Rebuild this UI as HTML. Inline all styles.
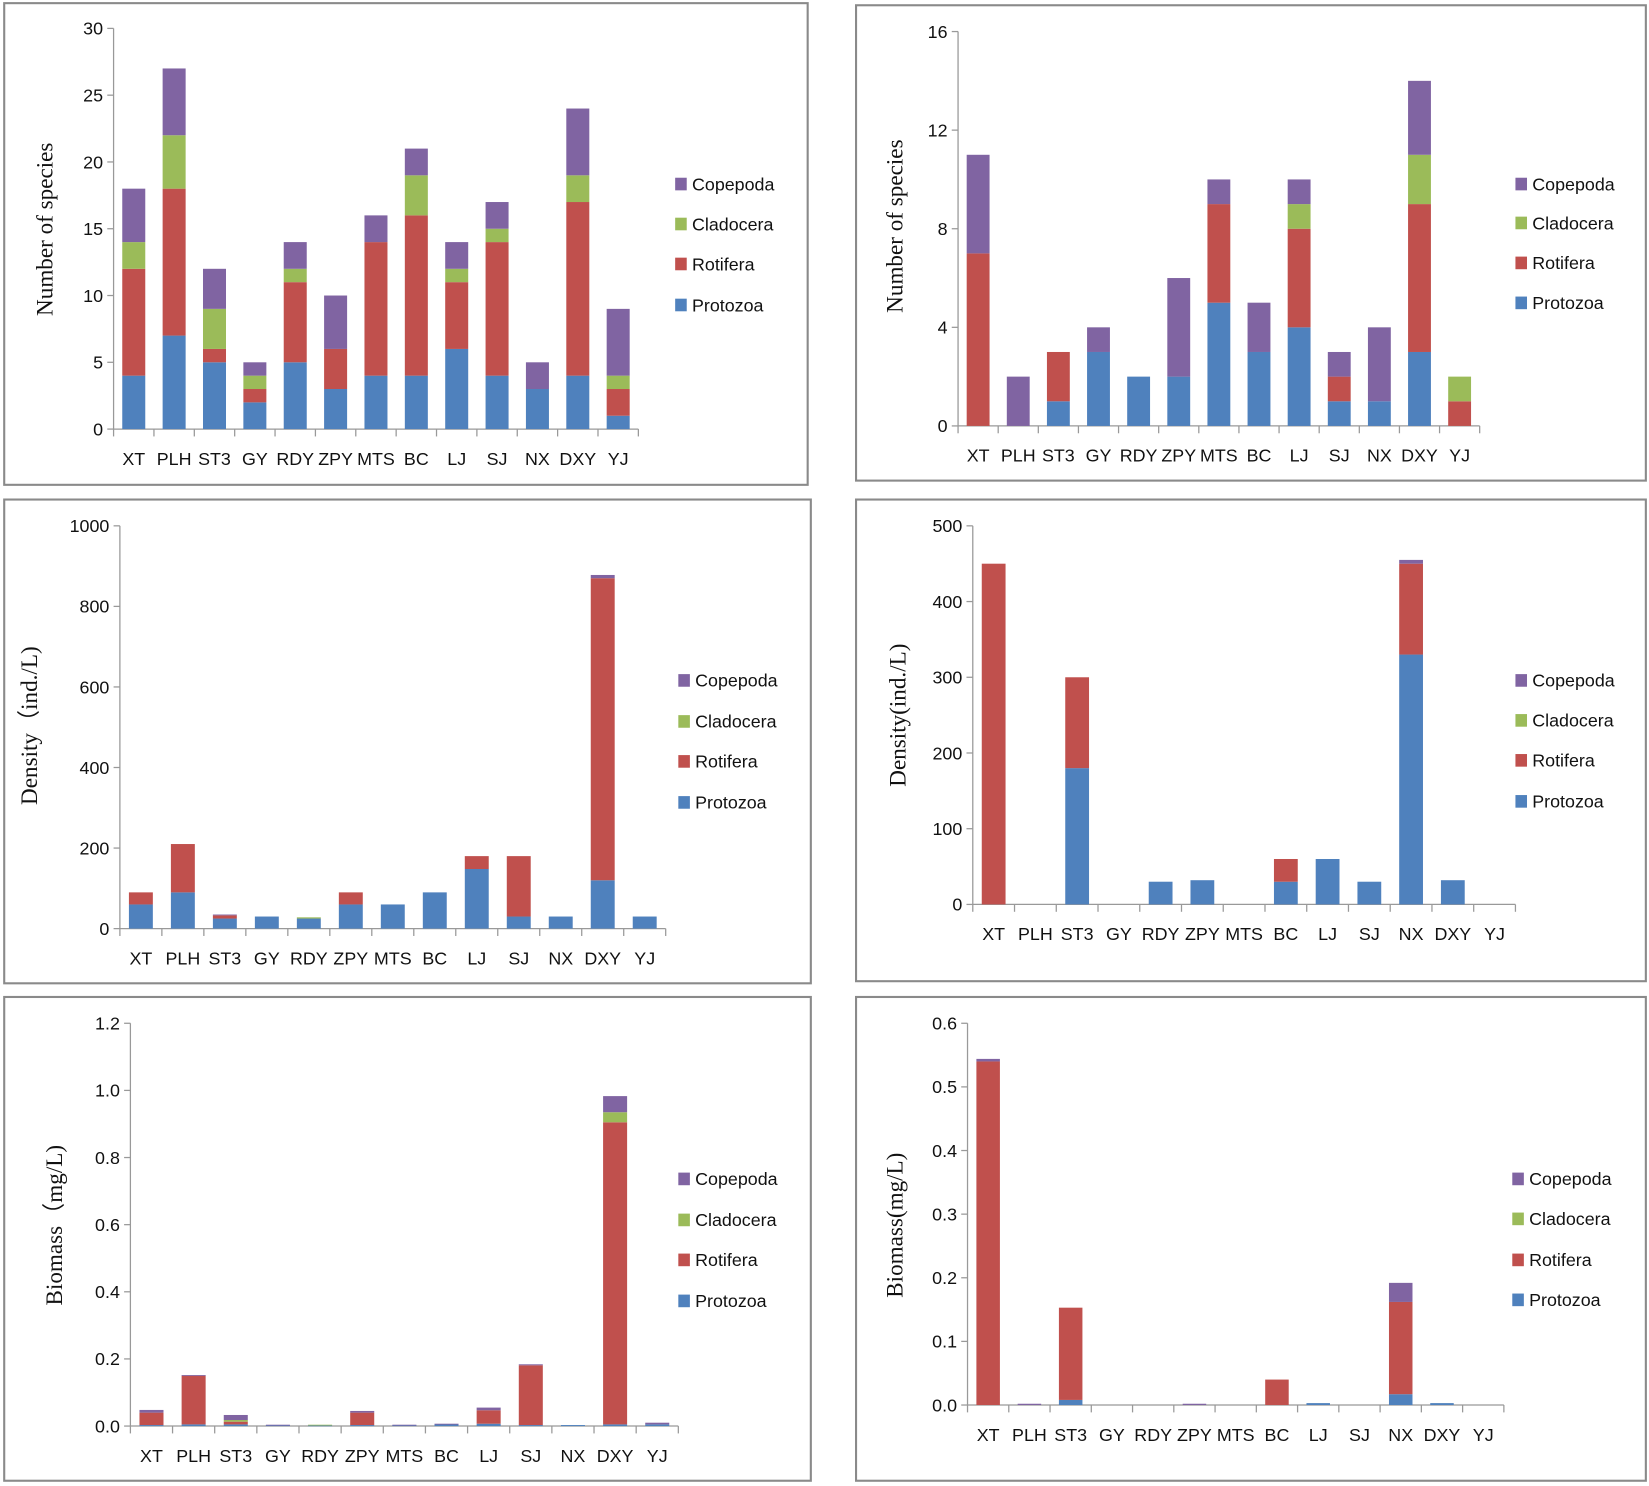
<!DOCTYPE html>
<html><head><meta charset="utf-8">
<style>
html,body{margin:0;padding:0;background:#fff;}
svg{display:block;}
.tk{font-family:"Liberation Sans Narrow","Liberation Sans",sans-serif;font-size:17px;fill:#111;}
.lg{font-family:"Liberation Sans Narrow","Liberation Sans",sans-serif;font-size:17px;fill:#111;}
.tt{font-family:"Liberation Serif",serif;font-size:22px;fill:#111;}
</style></head>
<body>
<svg id="chart" width="1649" height="1486" viewBox="0 0 1568 1413" preserveAspectRatio="none" xmlns="http://www.w3.org/2000/svg"></svg>
<script>
const categories = ["XT","PLH","ST3","GY","RDY","ZPY","MTS","BC","LJ","SJ","NX","DXY","YJ"];
const seriesNames = ["Protozoa","Rotifera","Cladocera","Copepoda"];
const seriesColors = ["#4F81BD","#C0504D","#9BBB59","#8064A2"];

// Panel 1: number of species (season A)
const p1Protozoa  = [4,7,5,2,5,3,4,4,6,4,3,4,1];
const p1Rotifera  = [8,11,1,1,6,3,10,12,5,10,0,13,2];
const p1Cladocera = [2,4,3,1,1,0,0,3,1,1,0,2,1];
const p1Copepoda  = [4,5,3,1,2,4,2,2,2,2,2,5,5];
const p1Ticks = [0,5,10,15,20,25,30];

// Panel 2: number of species (season B)
const p2Protozoa  = [0,0,1,3,2,2,5,3,4,1,1,3,0];
const p2Rotifera  = [7,0,2,0,0,0,4,0,4,1,0,6,1];
const p2Cladocera = [0,0,0,0,0,0,0,0,1,0,0,2,1];
const p2Copepoda  = [4,2,0,1,0,4,1,2,1,1,3,3,0];
const p2Ticks = [0,4,8,12,16];

// Panel 3: density (season A)
const p3Protozoa  = [60,90,25,30,25,60,60,90,148,30,30,120,30];
const p3Rotifera  = [30,120,8,0,0,30,0,0,32,150,0,750,0];
const p3Cladocera = [0,0,0,0,3,0,0,0,0,0,0,0,0];
const p3Copepoda  = [0,0,2,0,0,0,0,0,0,0,0,8,0];
const p3Ticks = [0,200,400,600,800,1000];

// Panel 4: density (season B)
const p4Protozoa  = [0,0,180,0,30,32,0,30,60,30,330,32,0];
const p4Rotifera  = [450,0,120,0,0,0,0,30,0,0,120,0,0];
const p4Cladocera = [0,0,0,0,0,0,0,0,0,0,0,0,0];
const p4Copepoda  = [0,0,0,0,0,0,0,0,0,0,5,0,0];
const p4Ticks = [0,100,200,300,400,500];

// Panel 5: biomass (season A)
const p5Protozoa  = [0.003,0.005,0.005,0.003,0.002,0.003,0.003,0.005,0.007,0.003,0.003,0.005,0.005];
const p5Rotifera  = [0.037,0.145,0.008,0,0,0.037,0,0,0.04,0.178,0,0.9,0];
const p5Cladocera = [0,0,0.005,0,0.002,0,0,0,0,0,0,0.03,0];
const p5Copepoda  = [0.008,0.002,0.015,0.001,0,0.005,0.001,0.002,0.008,0.003,0,0.048,0.005];
const p5Ticks = ["0.0","0.2","0.4","0.6","0.8","1.0","1.2"];

// Panel 6: biomass (season B)
const p6Protozoa  = [0,0,0.008,0,0,0,0,0,0.003,0,0.017,0.003,0];
const p6Rotifera  = [0.54,0,0.145,0,0,0,0,0.04,0,0,0.145,0,0];
const p6Cladocera = [0,0,0,0,0,0,0,0,0,0,0,0,0];
const p6Copepoda  = [0.004,0.002,0,0,0,0.002,0,0,0,0,0.03,0,0];
const p6Ticks = ["0.0","0.1","0.2","0.3","0.4","0.5","0.6"];

const NS = "http://www.w3.org/2000/svg";
const svg = document.getElementById("chart");
function mk(tag, attrs, parent){
  const e = document.createElementNS(NS, tag);
  for (const k in attrs) e.setAttribute(k, attrs[k]);
  (parent||svg).appendChild(e);
  return e;
}

const panels = [
  {id:"species-a", box:[4,3,764,458], ax:108, x1:607, y0:408, yTop:27, ticks:p1Ticks, data:[p1Protozoa,p1Rotifera,p1Cladocera,p1Copepoda], title:"Number of species", tx:45, ty:218, lx:642, ly:[290,251,213,175]},
  {id:"species-b", box:[814,5,751,452], ax:911, x1:1407, y0:405, yTop:30, ticks:p2Ticks, data:[p2Protozoa,p2Rotifera,p2Cladocera,p2Copepoda], title:"Number of species", tx:853, ty:215, lx:1441, ly:[288,250,212,175]},
  {id:"density-a", box:[4,475,767,460], ax:114, x1:633, y0:883, yTop:500, ticks:p3Ticks, data:[p3Protozoa,p3Rotifera,p3Cladocera,p3Copepoda], title:"Density（ind./L)", tx:30, ty:690, lx:645, ly:[763,724,686,647]},
  {id:"density-b", box:[814,475,751,458], ax:925, x1:1441, y0:860, yTop:500, ticks:p4Ticks, data:[p4Protozoa,p4Rotifera,p4Cladocera,p4Copepoda], title:"Density(ind./L)", tx:856, ty:680, lx:1441, ly:[762,723,685,647]},
  {id:"biomass-a", box:[4,948,767,460], ax:124, x1:645, y0:1356, yTop:973, ticks:p5Ticks, data:[p5Protozoa,p5Rotifera,p5Cladocera,p5Copepoda], title:"Biomass（mg/L)", tx:54, ty:1165, lx:645, ly:[1237,1198,1160,1121]},
  {id:"biomass-b", box:[814,948,751,460], ax:920, x1:1430, y0:1336, yTop:973, ticks:p6Ticks, data:[p6Protozoa,p6Rotifera,p6Cladocera,p6Copepoda], title:"Biomass(mg/L)", tx:853, ty:1165, lx:1438, ly:[1236,1198,1159,1121]}
];

panels.forEach(p=>{
  const g = mk("g",{});
  
  
  const fr = mk("rect",{x:p.box[0],y:p.box[1],width:p.box[2],height:p.box[3],fill:"none",stroke:"#8a8a8a","stroke-width":2},g);
  
  

  const tv = p.ticks.map(Number);
  const yMax = tv[tv.length-1];
  const yScale = v => p.y0 - (v / yMax) * (p.y0 - p.yTop);
  const band = (p.x1 - p.ax) / categories.length;
  const xScale = i => p.ax + band * (i + 0.5);
  const bw = band * 0.57;

  const ya = mk("line",{x1:p.ax,y1:p.yTop,x2:p.ax,y2:p.y0,stroke:"#999","stroke-width":1.2},g);
  
  
  p.ticks.forEach((t,i)=>{
    const y = yScale(tv[i]);
    mk("line",{x1:p.ax-6,y1:y,x2:p.ax,y2:y,stroke:"#999","stroke-width":1.2},g);
    const tl = mk("text",{x:p.ax-10,y:y+6,"text-anchor":"end",class:"tk"},g);
    tl.textContent = t;
    
    
  });
  const xa = mk("line",{x1:p.ax,y1:p.y0,x2:p.x1,y2:p.y0,stroke:"#999","stroke-width":1.2},g);
  
  
  for (let i=0;i<=categories.length;i++){
    const x = p.ax + band*i;
    mk("line",{x1:x,y1:p.y0,x2:x,y2:p.y0+7,stroke:"#999","stroke-width":1.2},g);
  }
  categories.forEach((c,i)=>{
    const tl = mk("text",{x:xScale(i),y:p.y0+34,"text-anchor":"middle",class:"tk"},g);
    tl.textContent = c;
    
    
  });
  categories.forEach((c,i)=>{
    let base = 0;
    p.data.forEach((arr,s)=>{
      const v = arr[i];
      if (v > 0){
        const yT = yScale(base+v), yB = yScale(base);
        const r = mk("rect",{x:xScale(i)-bw/2,y:yT,width:bw,height:Math.max(yB-yT,0.8),fill:seriesColors[s]},g);
        
        
      }
      base += v;
    });
  });
  const tt = mk("text",{x:p.tx,y:p.ty,"text-anchor":"middle",class:"tt",transform:"rotate(-90 "+p.tx+" "+p.ty+")","dominant-baseline":"middle"},g);
  tt.textContent = p.title;
  
  
  seriesNames.forEach((n,s)=>{
    const y = p.ly[s];
    const sq = mk("rect",{x:p.lx,y:y-6,width:11,height:12,fill:seriesColors[s]},g);
    
    
    const lt = mk("text",{x:p.lx+16,y:y+6,class:"lg"},g);
    lt.textContent = n;
    
    
  });
});
</script>
</body></html>
